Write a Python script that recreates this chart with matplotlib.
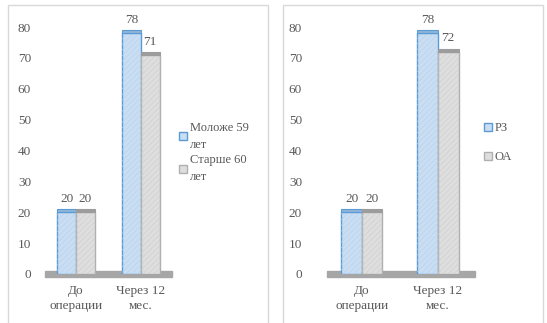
import numpy as np
import matplotlib.pyplot as plt
from matplotlib.patches import Rectangle

plt.rcParams['font.family'] = ['Liberation Serif', 'DejaVu Serif']
plt.rcParams['hatch.linewidth'] = 0.4

categories = ['До\nоперации', 'Через 12\nмес.']
left_labels = ['Моложе 59\nлет', 'Старше 60\nлет']
left_young = [20, 78]
left_old = [20, 71]
right_labels = ['РЗ', 'ОА']
right_rz = [20, 78]
right_oa = [20, 72]

text_col = '#595959'
blue_face, blue_edge, blue_cap, blue_hatch = '#c9def2', '#5b9bd5', '#8fb4d9', '#b5d0ec'
gray_face, gray_edge, gray_cap, gray_hatch = '#dedede', '#b0b0b0', '#9c9c9c', '#cccccc'
fs = 9.5

W, H = 547, 323
fig = plt.figure(figsize=(W / 100, H / 100), dpi=100)

# panel frames
for x0, x1 in [(8, 268), (283, 543)]:
    fig.patches.append(Rectangle((x0 / W, -0.05), (x1 - x0) / W, (H - 5) / H + 0.05,
                                 transform=fig.transFigure, fill=False,
                                 edgecolor='#d9d9d9', lw=1))


def draw_panel(ax, s1, s2, width, xlim, pad):
    x = np.arange(len(categories))
    ax.set_xlim(*xlim)
    ax.set_ylim(0, 80)
    # floor
    ax.add_patch(Rectangle((xlim[0], -1.0), xlim[1] - xlim[0], 2.0, color='#a6a6a6',
                           zorder=1, clip_on=False))
    b1 = ax.bar(x - width / 2, s1, width, color=blue_face, edgecolor=blue_edge,
                lw=1, zorder=2)
    b2 = ax.bar(x + width / 2, s2, width, color=gray_face, edgecolor=gray_edge,
                lw=1, zorder=2)
    # faint texture
    ax.bar(x - width / 2, s1, width, fill=False, edgecolor=blue_hatch, lw=0,
           hatch='//////', zorder=2.5)
    ax.bar(x + width / 2, s2, width, fill=False, edgecolor=gray_hatch, lw=0,
           hatch='//////', zorder=2.5)
    # top caps
    ax.bar(x - width / 2, [1] * len(x), width, bottom=s1, color=blue_cap,
           edgecolor=blue_edge, lw=0.8, zorder=3)
    ax.bar(x + width / 2, [1] * len(x), width, bottom=s2, color=gray_cap,
           edgecolor=gray_cap, lw=0.8, zorder=3)
    for xi, v in zip(x - width / 2, s1):
        ax.annotate(str(v), (xi, v + 1), xytext=(0, 3), textcoords='offset points',
                    ha='center', va='bottom', fontsize=fs, color=text_col)
    for xi, v in zip(x + width / 2, s2):
        ax.annotate(str(v), (xi, v + 1), xytext=(0, 3), textcoords='offset points',
                    ha='center', va='bottom', fontsize=fs, color=text_col)
    ax.set_xticks(x)
    ax.set_xticklabels(categories, fontsize=fs, color=text_col, linespacing=1.3)
    ax.set_yticks(range(0, 81, 10))
    ax.tick_params(axis='y', length=0, pad=pad, labelsize=fs, labelcolor=text_col)
    ax.tick_params(axis='x', length=0, pad=8)
    for sp in ax.spines.values():
        sp.set_visible(False)
    ax.patch.set_alpha(0)
    return b1, b2


y0 = (H - 274) / H
y1 = (H - 27) / H

ax1 = fig.add_axes([45 / W, y0, 127 / W, y1 - y0])
h1, h2 = draw_panel(ax1, left_young, left_old, 0.285, (-0.477, 1.477), 10)
leg1 = fig.legend([h1, h2], left_labels, loc='upper left',
                  bbox_to_anchor=(179 / W, (H - 122) / H), frameon=False,
                  handlelength=0.6, handleheight=0.6, handletextpad=0.25,
                  labelspacing=0.3, borderpad=0, borderaxespad=0, labelcolor=text_col,
                  prop={'size': 9})
for t in leg1.get_texts():
    t.set_linespacing(1.5)

ax2 = fig.add_axes([327 / W, y0, 148 / W, y1 - y0])
h3, h4 = draw_panel(ax2, right_rz, right_oa, 0.27, (-0.46, 1.487), 18)
fig.legend([h3, h4], right_labels, loc='upper left',
           bbox_to_anchor=(484 / W, (H - 122) / H), frameon=False,
           handlelength=0.6, handleheight=0.6, handletextpad=0.25,
           labelspacing=1.4, borderpad=0, borderaxespad=0, labelcolor=text_col,
           prop={'size': 9})

fig.savefig('out.png', dpi=100)
